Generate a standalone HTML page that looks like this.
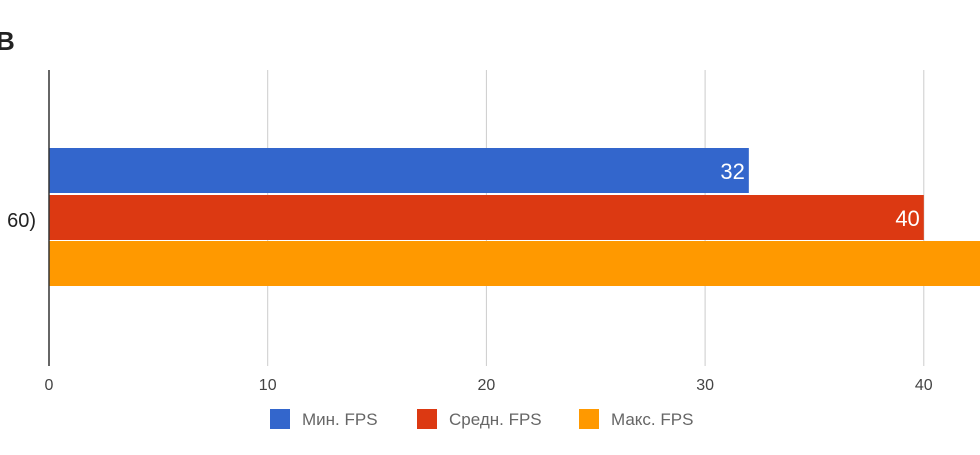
<!DOCTYPE html>
<html><head><meta charset="utf-8"><style>
body{margin:0;background:#fff;width:980px;height:450px;overflow:hidden;font-family:"Liberation Sans",sans-serif}
</style></head><body>
<svg id="c" width="980" height="450" xmlns="http://www.w3.org/2000/svg">
<text x="-4" y="50" font-size="26" font-weight="bold" fill="#222">В</text>
<text x="36" y="227" font-size="20" fill="#222" text-anchor="end">60)</text>
<g id="grid"></g><g id="bars"></g>
<line x1="49" y1="70" x2="49" y2="366" stroke="#333" stroke-width="1.5"/>
<g id="legend"></g>
</svg>
<script>
const categories=["(…60)"];
const seriesNames=["Мин. FPS","Средн. FPS","Макс. FPS"];
const seriesValues=[32,40,48];
const tickLabels=[0,10,20,30,40,50];
const colors=["#3366cc","#dc3912","#ff9900"];
const NS="http://www.w3.org/2000/svg";
const x0=49,unit=21.87;
const xs=v=>x0+v*unit;
const grid=document.getElementById('grid'),bars=document.getElementById('bars'),lg=document.getElementById('legend');
function mk(tag,attrs,parent){const e=document.createElementNS(NS,tag);for(const k in attrs)e.setAttribute(k,attrs[k]);parent.appendChild(e);return e;}
tickLabels.forEach(t=>{
  if(t>0){const l=mk('line',{x1:xs(t),x2:xs(t),y1:70,y2:366,stroke:'#ccc'},grid);
  
  }
  const tx=mk('text',{x:xs(t),y:390,'font-size':16,fill:'#444','text-anchor':'middle'},grid);
  tx.textContent=t;
  
  
});
const barTops=[148,195,241],barH=45;
seriesValues.forEach((v,i)=>{
  const r=mk('rect',{x:x0,y:barTops[i],width:xs(v)-x0,height:barH,fill:colors[i]},bars);
  
  
  const t=mk('text',{x:xs(v)-4,y:barTops[i]+31,'font-size':22,fill:'#fff','text-anchor':'end'},bars);
  t.textContent=v;
  
  
});
const lx=[270,417,579];
seriesNames.forEach((n,i)=>{
  const s=mk('rect',{x:lx[i],y:409,width:20,height:20,fill:colors[i]},lg);
  
  
  const t=mk('text',{x:lx[i]+32,y:425,'font-size':17,fill:'#666'},lg);
  t.textContent=n;
  
  
});
</script>
</body></html>
